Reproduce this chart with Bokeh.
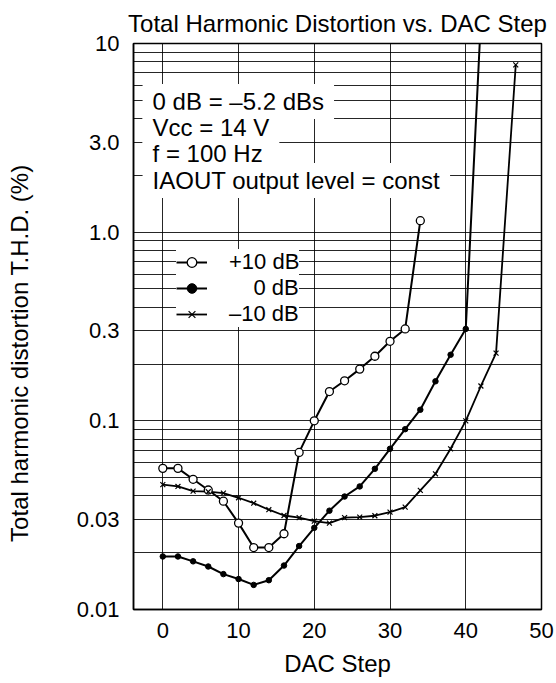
from bokeh.plotting import figure
from bokeh.models import FixedTicker, Label, Legend, LegendItem
from bokeh.embed import file_html
from bokeh.resources import INLINE

# ---------------- data ----------------
title_text = "Total Harmonic Distortion vs. DAC Step"
x_label = "DAC Step"
y_label = "Total harmonic distortion T.H.D. (%)"

x_ticks = [0, 10, 20, 30, 40, 50]
x_tick_labels = ["0", "10", "20", "30", "40", "50"]
y_ticks = [0.01, 0.03, 0.1, 0.3, 1.0, 3.0, 10.0]
y_tick_labels = ["0.01", "0.03", "0.1", "0.3", "1.0", "3.0", "10"]
y_grid = [0.02, 0.03, 0.04, 0.05, 0.06, 0.07, 0.08, 0.09,
          0.1, 0.2, 0.3, 0.4, 0.5, 0.6, 0.7, 0.8, 0.9,
          1.0, 2.0, 3.0, 4.0, 5.0, 6.0, 7.0, 8.0, 9.0]

series_names = ["+10 dB", "0 dB", "\u201310 dB"]

step_p10 = [0, 2, 4, 6, 8, 10, 12, 14, 16, 18, 20, 22, 24, 26, 28, 30, 32, 34]
thd_p10 = [0.056, 0.056, 0.049, 0.043, 0.0375, 0.0287, 0.0213, 0.0213, 0.0252,
           0.068, 0.100, 0.143, 0.163, 0.188, 0.220, 0.264, 0.307, 1.15]

step_0 = [0, 2, 4, 6, 8, 10, 12, 14, 16, 18, 20, 22, 24, 26, 28, 30, 32, 34,
          36, 38, 40, 42]
thd_0 = [0.0191, 0.0191, 0.0180, 0.0169, 0.0154, 0.0145, 0.0135, 0.0143,
         0.0171, 0.0217, 0.0271, 0.0334, 0.0397, 0.0449, 0.0557, 0.0711,
         0.0903, 0.1145, 0.162, 0.224, 0.307, 13.5]

step_m10 = [0, 2, 4, 6, 8, 10, 12, 14, 16, 18, 20, 22, 24, 26, 28, 30, 32,
            34, 36, 38, 40, 42, 44, 46.6]
thd_m10 = [0.0459, 0.0449, 0.0424, 0.0421, 0.0414, 0.0391, 0.0366, 0.0338,
           0.0315, 0.0307, 0.0294, 0.0287, 0.0307, 0.0309, 0.0314, 0.0328,
           0.0349, 0.0428, 0.0524, 0.0711, 0.100, 0.153, 0.2285, 7.7]

note_lines = ["0 dB = \u20135.2 dBs", "Vcc = 14 V", "f = 100 Hz",
              "IAOUT output level = const"]

# ---------------- styling / layout ----------------
FONT = "Liberation Sans"
note_x = -2.67
note_y = [4.93, 3.60, 2.60, 1.88]

p = figure(frame_width=408, frame_height=566,
           x_range=(-3.87, 50), y_range=(0.01, 10), y_axis_type="log",
           output_backend="svg", toolbar_location=None,
           min_border_left=133, min_border_right=14,
           min_border_top=43, min_border_bottom=72,
           title=title_text)

p.background_fill_color = "white"
p.border_fill_color = "white"
p.outline_line_color = "black"
p.outline_line_width = 1.5
p.outline_line_alpha = 1.0

p.title.text_font = FONT
p.title.text_font_size = "24px"
p.title.text_font_style = "normal"
p.title.text_color = "black"
p.title.align = "center"
p.title.standoff = 14

p.xaxis.ticker = FixedTicker(ticks=x_ticks)
p.xaxis.major_label_overrides = dict(zip(x_ticks, x_tick_labels))
p.yaxis.ticker = FixedTicker(ticks=y_ticks)
p.yaxis.major_label_overrides = dict(zip(y_ticks, y_tick_labels))

for ax in (p.xaxis[0], p.yaxis[0]):
    ax.major_tick_line_color = None
    ax.minor_tick_line_color = None
    ax.axis_line_color = "black"
    ax.axis_line_width = 1.5
    ax.major_label_text_font = FONT
    ax.major_label_text_font_size = "22px"
    ax.major_label_text_color = "black"
    ax.axis_label_text_font = FONT
    ax.axis_label_text_font_size = "24px"
    ax.axis_label_text_font_style = "normal"
    ax.axis_label_text_color = "black"

p.xaxis.axis_label = x_label
p.xaxis.major_label_standoff = 7
p.xaxis.axis_label_standoff = 9
p.yaxis.axis_label = y_label + "\u00a0" * 8
p.yaxis.major_label_standoff = 8
p.yaxis.axis_label_standoff = 41

p.xgrid.ticker = FixedTicker(ticks=x_ticks)
p.ygrid.ticker = FixedTicker(ticks=y_grid)
p.grid.grid_line_color = "black"
p.grid.grid_line_alpha = 0.85
p.grid.grid_line_width = 1

# ---------------- curves ----------------
l1 = p.line(step_p10, thd_p10, line_color="black", line_width=2)
l2 = p.line(step_0, thd_0, line_color="black", line_width=2)
l3 = p.line(step_m10, thd_m10, line_color="black", line_width=1.8)

s1 = p.scatter(step_p10, thd_p10, marker="circle", size=8,
               fill_color="white", line_color="black", line_width=1.3)
s2 = p.scatter(step_0, thd_0, marker="circle", size=5.5,
               fill_color="black", line_color="black", line_width=1)
s3 = p.scatter(step_m10, thd_m10, marker="x", size=7,
               line_color="black", line_width=1.2)

# ---------------- annotation text ----------------
for txt, yv in zip(note_lines, note_y):
    p.add_layout(Label(x=note_x, y=yv, text=txt, text_font=FONT,
                       text_font_size="24px", text_color="black",
                       text_baseline="middle",
                       background_fill_color="white",
                       background_fill_alpha=1.0,
                       padding=(10, 4)))

# ---------------- legend ----------------
legend_labels = [series_names[0], "\u00a0\u00a0\u00a0\u00a0" + series_names[1],
                 series_names[2]]
legend = Legend(items=[LegendItem(label=legend_labels[0], renderers=[l1, s1]),
                       LegendItem(label=legend_labels[1], renderers=[l2, s2]),
                       LegendItem(label=legend_labels[2], renderers=[l3, s3])],
                location=(43, 282),
                background_fill_color="white", background_fill_alpha=1.0,
                border_line_color=None,
                padding=6, spacing=-2, margin=0,
                glyph_width=31, glyph_height=24, label_height=24,
                label_standoff=22,
                label_text_font=FONT, label_text_font_size="22px",
                label_text_color="black")
p.add_layout(legend)

open("out.html", "w").write(file_html(p, INLINE))
